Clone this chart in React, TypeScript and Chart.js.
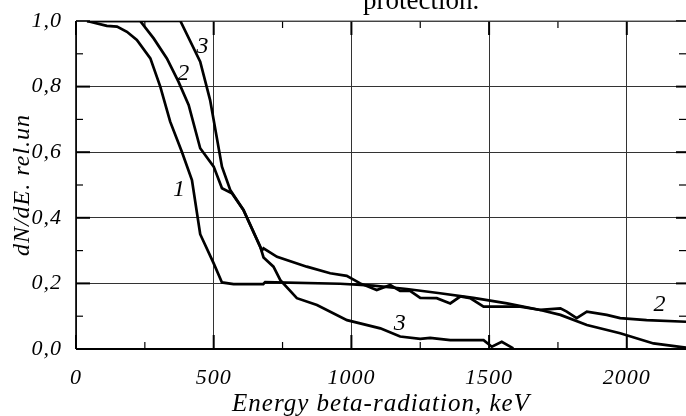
import React, { useEffect, useRef } from 'react';
import { Chart, registerables } from 'chart.js';

Chart.register(...registerables);

// ---- data ----
const X_MAX = 2215;
const X_TICKS = [0, 500, 1000, 1500, 2000];
const X_MINOR = [250, 750, 1250, 1750];
const Y_TICKS = [0, 0.2, 0.4, 0.6, 0.8, 1.0];
const Y_MINOR = [0.1, 0.3, 0.5, 0.7, 0.9];

const x1 = [40, 112, 149, 185, 221, 270, 306, 342, 385, 421, 451, 500, 530, 572, 680, 687, 959, 1080, 1201, 1322, 1443, 1565, 1686, 1759, 1855, 1976, 2097, 2215];
const y1 = [1.0, 0.985, 0.983, 0.967, 0.942, 0.886, 0.8, 0.693, 0.6, 0.515, 0.35, 0.261, 0.203, 0.198, 0.198, 0.204, 0.199, 0.193, 0.183, 0.17, 0.156, 0.139, 0.119, 0.104, 0.073, 0.048, 0.017, 0.004];

const x2 = [40, 233, 282, 330, 372, 409, 451, 500, 530, 566, 608, 675, 681, 730, 838, 923, 983, 1032, 1092, 1141, 1177, 1213, 1250, 1310, 1359, 1395, 1431, 1480, 1540, 1613, 1686, 1759, 1782, 1818, 1855, 1927, 1976, 2072, 2215];
const y2 = [1.0, 1.0, 0.947, 0.886, 0.815, 0.744, 0.612, 0.556, 0.49, 0.475, 0.424, 0.3, 0.307, 0.281, 0.251, 0.231, 0.223, 0.2, 0.18, 0.195, 0.177, 0.177, 0.156, 0.155, 0.139, 0.16, 0.155, 0.129, 0.129, 0.129, 0.119, 0.124, 0.114, 0.094, 0.114, 0.104, 0.094, 0.088, 0.083];

const x3 = [40, 379, 451, 487, 530, 560, 608, 669, 681, 717, 742, 802, 875, 984, 1105, 1177, 1250, 1286, 1359, 1480, 1510, 1546, 1588];
const y3 = [1.0, 1.0, 0.876, 0.759, 0.556, 0.485, 0.424, 0.312, 0.279, 0.251, 0.21, 0.155, 0.134, 0.088, 0.063, 0.038, 0.031, 0.034, 0.027, 0.027, 0.007, 0.022, 0.002];

const curveNames = ['3', '2', '1', '3', '2'];
const curveNameX = [461, 391, 376, 1177, 2121];
const curveNameY = [0.922, 0.84, 0.485, 0.078, 0.134];

const SERIF = '"Liberation Serif", "Times New Roman", serif';

const toPts = (xs: number[], ys: number[]) => xs.map((x, i) => ({ x, y: ys[i] }));

const framePlugin = {
  id: 'frame',
  beforeDraw(chart: any) {
    try { chart.ctx.letterSpacing = '1px'; } catch (e) { /* ignore */ }
  },
  beforeDatasetsDraw(chart: any) {
    const { ctx, chartArea: a, scales } = chart;
    const xs = scales.x;
    const ys = scales.y;
    const line = (x0: number, y0: number, x1: number, y1: number) => {
      ctx.beginPath();
      ctx.moveTo(x0, y0);
      ctx.lineTo(x1, y1);
      ctx.stroke();
    };
    ctx.save();
    ctx.strokeStyle = '#000';
    ctx.lineWidth = 1.2;
    for (const v of X_MINOR) {
      const p = xs.getPixelForValue(v);
      line(p, a.bottom, p, a.bottom - 7);
      line(p, a.top, p, a.top + 7);
    }
    for (const v of Y_MINOR) {
      const p = ys.getPixelForValue(v);
      line(a.left, p, a.left + 7, p);
      line(a.right, p, a.right - 7, p);
    }
    ctx.lineWidth = 2;
    for (const v of X_TICKS) {
      const p = xs.getPixelForValue(v);
      line(p, a.bottom, p, a.bottom - 14);
      line(p, a.top, p, a.top + 14);
    }
    for (const v of Y_TICKS) {
      const p = ys.getPixelForValue(v);
      line(a.left, p, a.left + 14, p);
      line(a.right, p, a.right - 10, p);
    }
    ctx.lineWidth = 1;
    ctx.strokeStyle = '#555';
    line(a.left, a.top, a.right, a.top);
    ctx.strokeStyle = '#000';
    ctx.lineWidth = 1.6;
    line(a.left, a.top, a.left, a.bottom);
    ctx.lineWidth = 2.2;
    line(a.left, a.bottom, a.right, a.bottom);
    ctx.restore();
  },
  afterDatasetsDraw(chart: any) {
    const { ctx, scales } = chart;
    ctx.save();
    ctx.fillStyle = '#000';
    ctx.font = `italic 24px ${SERIF}`;
    ctx.textAlign = 'center';
    ctx.textBaseline = 'middle';
    curveNames.forEach((t, i) => {
      ctx.fillText(t, scales.x.getPixelForValue(curveNameX[i]), scales.y.getPixelForValue(curveNameY[i]));
    });
    ctx.restore();
  },
};

export default function App() {
  const ref = useRef<HTMLCanvasElement>(null);
  useEffect(() => {
    if (!ref.current) return;
    const ds = (xs: number[], ys: number[], label: string) => ({
      label,
      data: toPts(xs, ys),
      borderColor: '#000',
      borderWidth: 2.7,
      pointRadius: 0,
      tension: 0,
      fill: false,
    });
    const chart = new Chart(ref.current, {
      type: 'line',
      data: { datasets: [ds(x1, y1, '1'), ds(x2, y2, '2'), ds(x3, y3, '3')] },
      options: {
        animation: false,
        responsive: false,
        devicePixelRatio: 1,
        layout: { padding: { top: 21, right: 0, left: 0, bottom: 0 } },
        plugins: { legend: { display: false }, tooltip: { enabled: false } },
        scales: {
          x: {
            type: 'linear',
            min: 0,
            max: X_MAX,
            afterBuildTicks: (s: any) => { s.ticks = X_TICKS.map((v) => ({ value: v })); },
            afterFit: (s: any) => { s.height = 67; s.paddingLeft = 0; s.paddingRight = 0; },
            grid: { color: '#333', lineWidth: 1, drawTicks: false },
            border: { display: false },
            ticks: {
              padding: 16,
              color: '#000',
              maxRotation: 0,
              font: { family: SERIF, style: 'italic', size: 22 },
              callback: (v: any) => String(v),
            },
            title: {
              display: true,
              text: 'Energy beta-radiation, keV',
              color: '#000',
              font: { family: SERIF, style: 'italic', size: 25, lineHeight: 0.9 },
              padding: { top: 0, bottom: 0 },
            },
          },
          y: {
            type: 'linear',
            min: 0,
            max: 1,
            afterBuildTicks: (s: any) => { s.ticks = Y_TICKS.map((v) => ({ value: v })); },
            afterFit: (s: any) => { s.width = 76; s.paddingTop = 0; s.paddingBottom = 0; },
            grid: { color: '#333', lineWidth: 1, drawTicks: false },
            border: { display: false },
            ticks: {
              padding: 14,
              color: '#000',
              font: { family: SERIF, style: 'italic', size: 22 },
              callback: (v: any) => Number(v).toFixed(1).replace('.', ','),
            },
            title: {
              display: true,
              text: 'dN/dE. rel.un',
              color: '#000',
              font: { family: SERIF, style: 'italic', size: 24 },
              padding: { top: 8, bottom: 0 },
            },
          },
        },
      },
      plugins: [framePlugin],
    } as any);
    return () => chart.destroy();
  }, []);

  return (
    <div style={{ position: 'fixed', left: 0, top: 0, width: 686, height: 416, overflow: 'hidden', background: '#fff' }}>
      <canvas ref={ref} width={686} height={416} style={{ display: 'block' }} />
      <div
        style={{
          position: 'absolute',
          left: 363,
          top: -13,
          fontFamily: SERIF,
          fontSize: 27,
          lineHeight: '27px',
          color: '#000',
          whiteSpace: 'nowrap',
        }}
      >
        protection.
      </div>
    </div>
  );
}
